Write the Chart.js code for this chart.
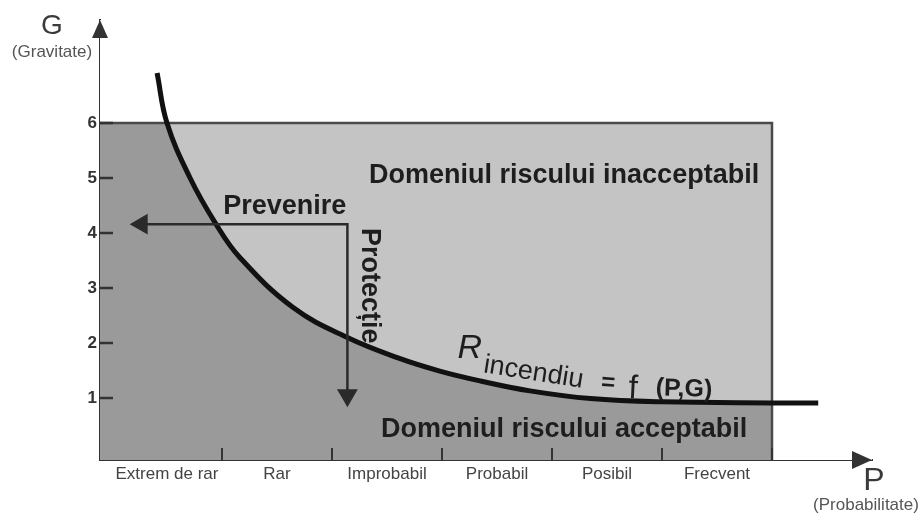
<!doctype html>
<html lang="ro">
<head>
<meta charset="utf-8">
<title>Riscul de incendiu R = f(P,G)</title>
<script src="https://cdn.jsdelivr.net/npm/chart.js"></script>
<style>
  body { margin: 0; background: #fff; }
  #wrap { width: 924px; height: 515px; }
</style>
</head>
<body>
<div id="wrap"><canvas id="chart"></canvas></div>
<script>
// categoriile de probabilitate (axa P)
const categories = ['Extrem de rar', 'Rar', 'Improbabil', 'Probabil', 'Posibil', 'Frecvent'];
const categoryEdges = [1, 2, 3, 4, 5, 6];
// gravitate (axa G)
const yTicks = [1, 2, 3, 4, 5, 6];

// curba R incendiu = f(P,G)
const curveX = [0.41, 0.50, 0.71, 0.94, 1.16, 1.65, 2.15, 2.60, 2.98, 3.35, 3.80, 4.35, 5.00, 6.00, 6.42];
const curveY = [6.91, 6.00, 5.00, 4.18, 3.56, 2.64, 2.09, 1.73, 1.49, 1.31, 1.13, 0.99, 0.93, 0.91, 0.91];
const crossX = 0.50;        // unde curba taie G = 6

// domeniul (dreptunghiul gri)
const domainTop = 6;
const domainRight = 6;

// sageata Prevenire / Protectie
const arrowX = [0.27, 2.14, 2.14];
const arrowY = [4.16, 4.16, 1.05];

// limitele axelor
const xMin = -0.109, xMax = 6.909;
const yMin = -0.127, yMax = 7.873;

const FONT = '"Liberation Sans", Arial, Helvetica, sans-serif';

const pts = (xs, ys) => xs.map((v, i) => ({ x: v, y: ys[i] }));
const curve = pts(curveX, curveY);

const notes = [
  { text: 'Domeniul riscului inacceptabil', x: 4.11, y: 5.05, font: 'bold 27px', align: 'center', base: 'middle' },
  { text: 'Prevenire', x: 1.57, y: 4.49, font: 'bold 27px', align: 'center', base: 'middle' },
  { text: 'Protecție', x: 2.34, y: 3.04, font: 'bold 27px', align: 'center', base: 'middle', rot: 90 },
  { text: 'Domeniul riscului acceptabil', x: 4.11, y: 0.42, font: 'bold 27px', align: 'center', base: 'middle' },
  { text: 'R', x: 3.14, y: 1.73, font: 'italic 34px', align: 'left', base: 'alphabetic' },
  { text: 'incendiu', x: 3.37, y: 1.47, font: '27px', align: 'left', base: 'alphabetic', rot: 9 },
  { text: '=', x: 4.51, y: 1.27, font: 'bold 24px', align: 'center', base: 'middle', rot: 4 },
  { text: 'f', x: 4.69, y: 1.0, font: '33px', align: 'left', base: 'alphabetic', rot: 3 },
  { text: '(P,G)', x: 5.2, y: 1.16, font: 'bold 25px', align: 'center', base: 'middle', rot: 2 }
];

const decor = {
  id: 'decor',
  afterDraw(chart) {
    const { ctx, chartArea: a, scales: { x, y } } = chart;
    ctx.save();
    ctx.strokeStyle = '#333';
    ctx.fillStyle = '#333';

    // liniutele de pe axe
    ctx.lineWidth = 2.5;
    yTicks.forEach(v => {
      const py = y.getPixelForValue(v);
      ctx.beginPath(); ctx.moveTo(a.left, py); ctx.lineTo(a.left + 13, py); ctx.stroke();
    });
    ctx.lineWidth = 2;
    categoryEdges.forEach(v => {
      const px = x.getPixelForValue(v);
      ctx.beginPath(); ctx.moveTo(px, a.bottom); ctx.lineTo(px, a.bottom - 12); ctx.stroke();
    });

    // varfurile de sageata ale axelor
    ctx.beginPath();
    ctx.moveTo(a.left, a.top); ctx.lineTo(a.left - 8, a.top + 18); ctx.lineTo(a.left + 8, a.top + 18);
    ctx.closePath(); ctx.fill();
    ctx.beginPath();
    ctx.moveTo(a.right, a.bottom); ctx.lineTo(a.right - 20, a.bottom - 9); ctx.lineTo(a.right - 20, a.bottom + 9);
    ctx.closePath(); ctx.fill();

    // titlurile axelor
    ctx.textAlign = 'center';
    ctx.textBaseline = 'middle';
    ctx.fillStyle = '#3a3a3a';
    ctx.font = '28px ' + FONT;
    ctx.fillText('G', a.left - 48, a.top + 6);
    ctx.font = '17px ' + FONT;
    ctx.fillStyle = '#555';
    ctx.fillText('(Gravitate)', a.left - 48, a.top + 32);
    ctx.fillStyle = '#3a3a3a';
    ctx.font = '32px ' + FONT;
    ctx.fillText('P', a.right + 2, a.bottom + 21);
    ctx.font = '17px ' + FONT;
    ctx.fillStyle = '#555';
    ctx.fillText('(Probabilitate)', a.right - 6, a.bottom + 45);

    // textele din grafic
    ctx.fillStyle = '#1e1e1e';
    notes.forEach(n => {
      ctx.save();
      ctx.translate(x.getPixelForValue(n.x), y.getPixelForValue(n.y));
      if (n.rot) ctx.rotate(n.rot * Math.PI / 180);
      ctx.font = n.font + ' ' + FONT;
      ctx.textAlign = n.align;
      ctx.textBaseline = n.base;
      ctx.fillText(n.text, 0, 0);
      ctx.restore();
    });
    ctx.restore();
  }
};

const LIGHT = '#c4c4c4';
const DARK = '#9a9a9a';

new Chart(document.getElementById('chart'), {
  type: 'line',
  data: {
    datasets: [
      { // domeniul - fond deschis
        data: [{ x: xMin, y: domainTop }, { x: domainRight, y: domainTop }],
        borderWidth: 0, backgroundColor: LIGHT, fill: 'start', order: 8
      },
      { // zona inchisa din stanga curbei
        data: [{ x: xMin, y: domainTop }, { x: crossX, y: domainTop }],
        borderWidth: 0, backgroundColor: DARK, fill: 'start', order: 7
      },
      { // zona inchisa sub curba
        data: curve, tension: 0.4,
        borderWidth: 0, backgroundColor: DARK, fill: 'start', order: 6
      },
      { // alb deasupra domeniului
        data: [{ x: xMin, y: domainTop }, { x: xMax, y: domainTop }],
        borderWidth: 0, backgroundColor: '#fff', fill: 'end', order: 5
      },
      { // alb la dreapta domeniului
        data: [{ x: domainRight, y: domainTop }, { x: xMax, y: domainTop }],
        borderWidth: 0, backgroundColor: '#fff', fill: 'start', order: 5
      },
      { // conturul domeniului
        data: [{ x: xMin, y: domainTop }, { x: domainRight, y: domainTop }, { x: domainRight, y: yMin }],
        borderColor: '#4a4a4a', borderWidth: 2.5, fill: false, order: 3
      },
      { // curba R
        data: curve, tension: 0.4,
        borderColor: '#111', borderWidth: 5, borderCapStyle: 'butt', fill: false, order: 2
      },
      { // Prevenire / Protectie
        data: pts(arrowX, arrowY),
        borderColor: '#2a2a2a', borderWidth: 2.5, fill: false, order: 1,
        pointStyle: 'triangle', pointRadius: [12, 0, 12], pointRotation: [-90, 0, 180],
        pointBackgroundColor: '#2a2a2a', pointBorderWidth: 0
      }
    ]
  },
  options: {
    responsive: true,
    maintainAspectRatio: false,
    animation: false,
    events: [],
    layout: { padding: { top: 20, right: 52, left: 0, bottom: 0 } },
    plugins: { legend: { display: false }, tooltip: { enabled: false } },
    elements: { point: { radius: 0 }, line: { tension: 0 } },
    scales: {
      x: {
        type: 'linear', min: xMin, max: xMax, z: 1,
        afterBuildTicks: s => { s.ticks = categories.map((c, i) => ({ value: i + 0.5 })); },
        afterFit: s => { s.height = 55; },
        ticks: {
          autoSkip: false, maxRotation: 0, padding: 4, color: '#444',
          font: { size: 17, family: FONT },
          callback: (v, i) => categories[i]
        },
        grid: { display: true, drawOnChartArea: false, drawTicks: false },
        border: { display: true, color: '#333', width: 2 }
      },
      y: {
        type: 'linear', min: yMin, max: yMax, z: 1,
        afterBuildTicks: s => { s.ticks = yTicks.map(v => ({ value: v })); },
        afterFit: s => { s.width = 100; },
        ticks: {
          padding: 3, color: '#333',
          font: { size: 17, weight: 'bold', family: FONT },
          callback: v => v
        },
        grid: { display: true, drawOnChartArea: false, drawTicks: false },
        border: { display: true, color: '#333', width: 2 }
      }
    }
  },
  plugins: [decor]
});
</script>
</body>
</html>
